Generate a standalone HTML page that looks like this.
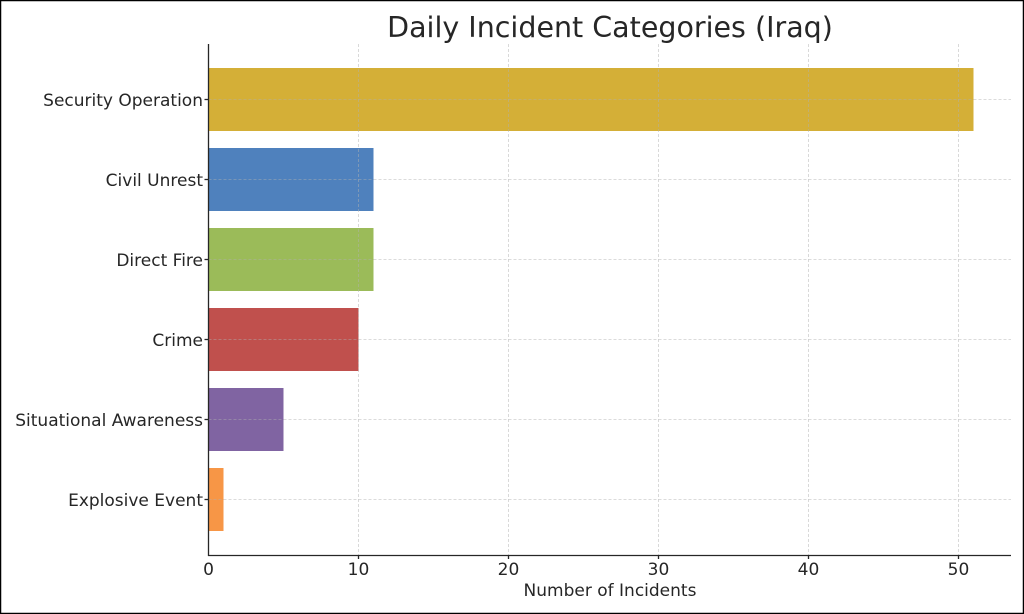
<!DOCTYPE html>
<html><head><style>
body{margin:0;background:#fff}
svg{display:block}
text{font-family:"DejaVu Sans","Liberation Sans",sans-serif;fill:#262626}
</style></head><body>
<svg width="1024" height="614" viewBox="0 0 1024 614">
<rect x="0.5" y="0.5" width="1023" height="613" fill="#fff" stroke="#000" stroke-width="1.5"/>
<text x="610" y="37" font-size="28.5" text-anchor="middle">Daily Incident Categories (Iraq)</text>
<g>
<rect x="208.5" y="68" width="765" height="63" fill="#d4af37"/>
<rect x="208.5" y="148" width="165" height="63" fill="#4f81bd"/>
<rect x="208.5" y="228" width="165" height="63" fill="#9bbb59"/>
<rect x="208.5" y="308" width="150" height="63" fill="#c0504d"/>
<rect x="208.5" y="388" width="75" height="63" fill="#8064a2"/>
<rect x="208.5" y="468" width="15" height="63" fill="#f79646"/>
</g>
<g stroke="#b0b0b0" stroke-opacity="0.6" stroke-dasharray="3,2" stroke-width="0.8">
<line x1="358.5" y1="44" x2="358.5" y2="555"/>
<line x1="508.5" y1="44" x2="508.5" y2="555"/>
<line x1="658.5" y1="44" x2="658.5" y2="555"/>
<line x1="808.5" y1="44" x2="808.5" y2="555"/>
<line x1="958.5" y1="44" x2="958.5" y2="555"/>
<line x1="208.5" y1="99.5" x2="1011" y2="99.5"/>
<line x1="208.5" y1="179.5" x2="1011" y2="179.5"/>
<line x1="208.5" y1="259.5" x2="1011" y2="259.5"/>
<line x1="208.5" y1="339.5" x2="1011" y2="339.5"/>
<line x1="208.5" y1="419.5" x2="1011" y2="419.5"/>
<line x1="208.5" y1="499.5" x2="1011" y2="499.5"/>
</g>
<g stroke="#262626" stroke-width="1.3">
<line x1="208.5" y1="44" x2="208.5" y2="556"/>
<line x1="208" y1="555.5" x2="1011" y2="555.5"/>
<line x1="358.5" y1="555" x2="358.5" y2="559"/>
<line x1="508.5" y1="555" x2="508.5" y2="559"/>
<line x1="658.5" y1="555" x2="658.5" y2="559"/>
<line x1="808.5" y1="555" x2="808.5" y2="559"/>
<line x1="958.5" y1="555" x2="958.5" y2="559"/>
<line x1="204.5" y1="99.5" x2="208.5" y2="99.5"/>
<line x1="204.5" y1="179.5" x2="208.5" y2="179.5"/>
<line x1="204.5" y1="259.5" x2="208.5" y2="259.5"/>
<line x1="204.5" y1="339.5" x2="208.5" y2="339.5"/>
<line x1="204.5" y1="419.5" x2="208.5" y2="419.5"/>
<line x1="204.5" y1="499.5" x2="208.5" y2="499.5"/>
</g>
<g font-size="17" text-anchor="end">
<text x="203" y="106">Security Operation</text>
<text x="203" y="186">Civil Unrest</text>
<text x="203" y="266">Direct Fire</text>
<text x="203" y="346">Crime</text>
<text x="203" y="426">Situational Awareness</text>
<text x="203" y="506">Explosive Event</text>
</g>
<g font-size="17" text-anchor="middle">
<text x="208.5" y="575">0</text>
<text x="358.5" y="575">10</text>
<text x="508.5" y="575">20</text>
<text x="658.5" y="575">30</text>
<text x="808.5" y="575">40</text>
<text x="958.5" y="575">50</text>
<text x="610" y="596">Number of Incidents</text>
</g>
</svg>
</body></html>
